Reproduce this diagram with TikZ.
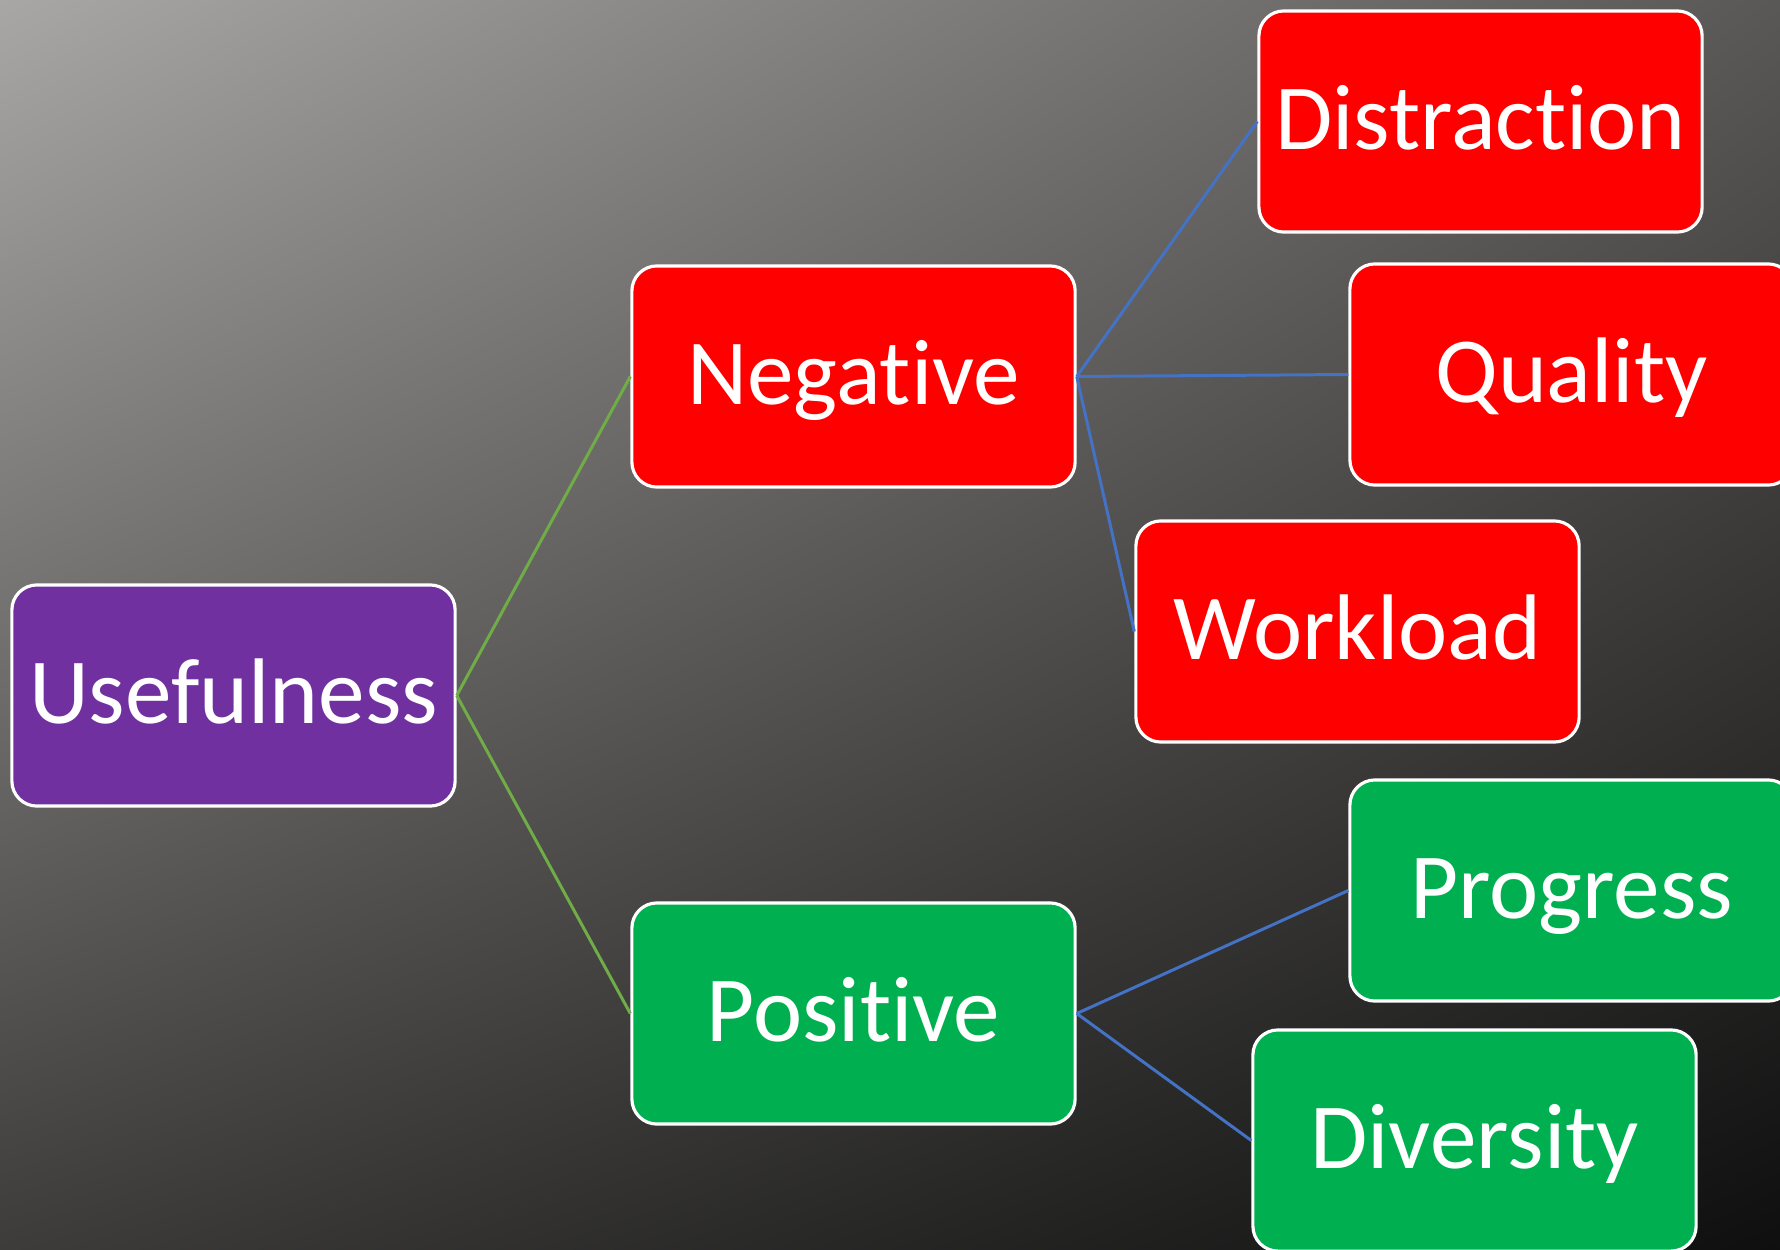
\documentclass[tikz,border=0pt]{standalone}
\usepackage{fontspec}
\setmainfont{Carlito}[Ligatures={NoCommon,NoRare}]
\usetikzlibrary{shadings}
\definecolor{bgUL}{HTML}{A9A7A5}
\definecolor{bgUR}{HTML}{5A5856}
\definecolor{bgLL}{HTML}{3D3C3B}
\definecolor{bgLR}{HTML}{0F0F0F}
\definecolor{boxred}{HTML}{FF0000}
\definecolor{boxgreen}{HTML}{00B050}
\definecolor{boxpurple}{HTML}{7030A0}
\definecolor{linkblue}{HTML}{4472C4}
\definecolor{linkgreen}{HTML}{70AD47}
\begin{document}
\begin{tikzpicture}[x=0.01cm,y=-0.01cm,
  box/.style={draw=white, line width=0.9pt, rounded corners=0.25cm,
    minimum width=4.43cm, minimum height=2.21cm, text=white,
    font=\fontsize{26.5}{30}\selectfont, text height=0.70cm, text depth=0.14cm,
    inner sep=0pt},
  redbox/.style={box, fill=boxred},
  greenbox/.style={box, fill=boxgreen},
  purplebox/.style={box, fill=boxpurple},
  bluelink/.style={draw=linkblue, line width=0.85pt},
  greenlink/.style={draw=linkgreen, line width=0.85pt}]
\useasboundingbox (0,0) rectangle (1780,1249);
\clip (0,0) rectangle (1780,1249);
\shade[upper left=bgUL, upper right=bgUR, lower left=bgLL, lower right=bgLR]
  (0,0) rectangle (1780,1249);
% nodes
\node[purplebox] (use) at (233.5,695.5) {Usefulness};
\node[redbox] (neg) at (853.5,376.5) {Negative};
\node[greenbox] (pos) at (853.5,1013.5) {Positive};
\node[redbox] (dis) at (1480.5,121.5) {Distraction};
\node[redbox] (qua) at (1571.5,374.5) {Quality};
\node[redbox] (wor) at (1357.5,631.5) {Workload};
\node[greenbox] (pro) at (1571.5,890.5) {Progress};
\node[greenbox] (div) at (1474.5,1140.5) {Diversity};
% connectors
\draw[greenlink] (use.east) -- (neg.west);
\draw[greenlink] (use.east) -- (pos.west);
\draw[bluelink] (neg.east) -- (dis.west);
\draw[bluelink] (neg.east) -- (qua.west);
\draw[bluelink] (neg.east) -- (wor.west);
\draw[bluelink] (pos.east) -- (pro.west);
\draw[bluelink] (pos.east) -- (div.west);
\end{tikzpicture}
\end{document}
